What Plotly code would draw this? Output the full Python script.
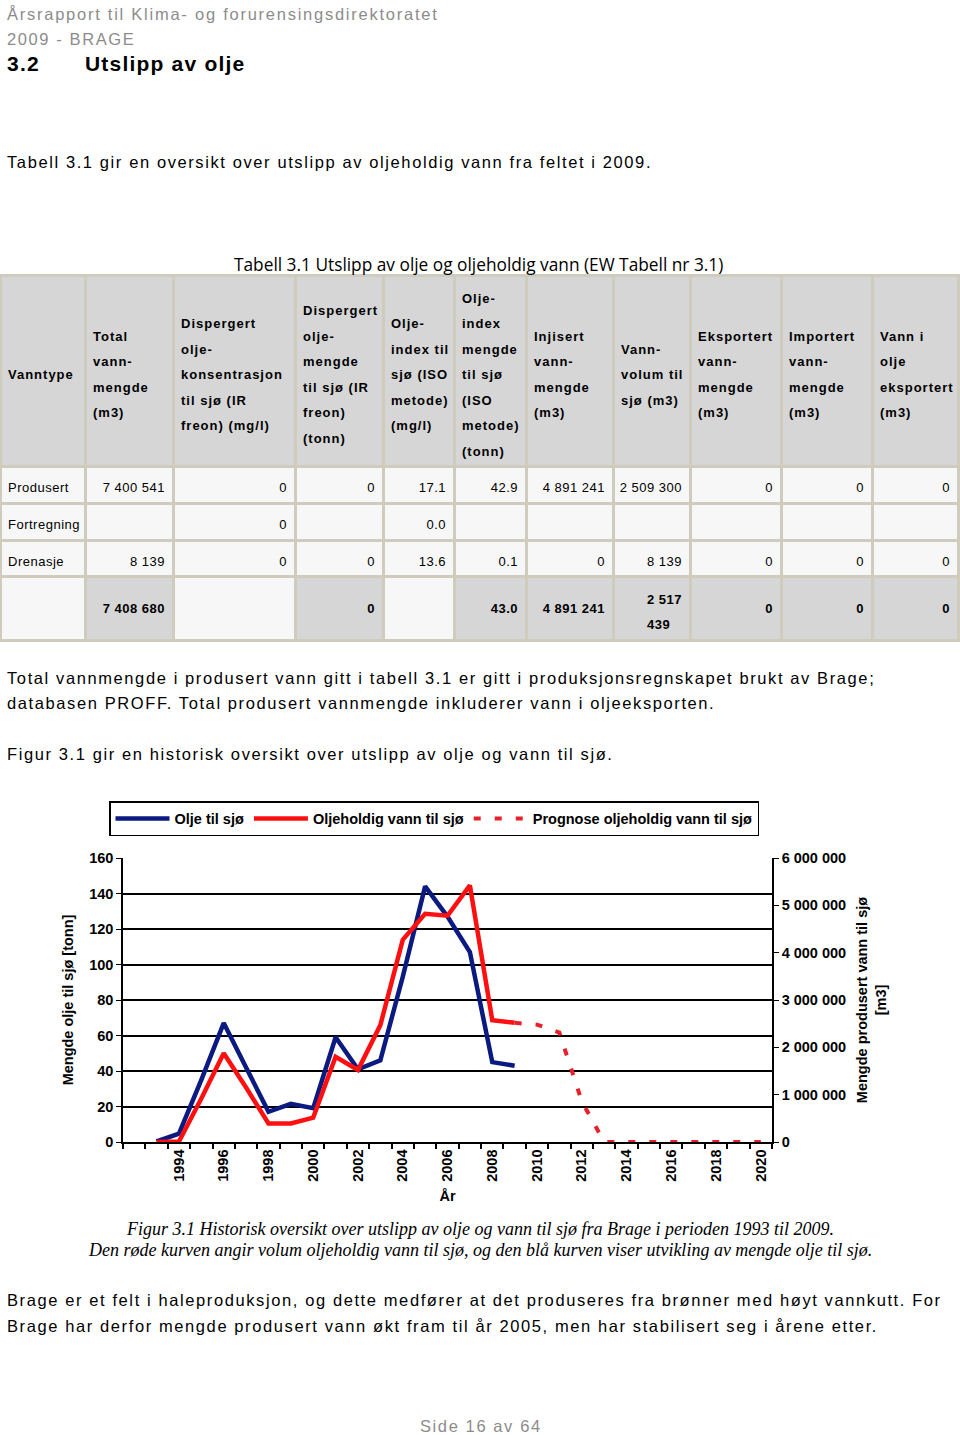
import plotly.graph_objects as go

W, H = 960, 1435
BODY = "Liberation Sans, Arial, sans-serif"
SERIF = "Liberation Serif, Times New Roman, serif"

# ---- Figur 3.1: utslipp av olje og vann til sjø ----
years = list(range(1993, 2010))
olje_til_sjo = [0.3, 4.7, 35, 67, 42, 17, 21.5, 19, 59, 41, 46, 93, 144, 127, 107, 45, 43]  # tonn
vann_til_sjo = [0, 10000, 920000, 1875000, 1150000, 390000, 390000, 515000, 1800000, 1520000,
                2470000, 4270000, 4820000, 4780000, 5420000, 2575000, 2517439]  # m3
prognose_years = list(range(2009, 2021))
prognose_vann = [2517439, 2480000, 2310000, 860000, 0, 0, 0, 0, 0, 0, 0, 0]
year_ticks = list(range(1994, 2021, 2))
year_bounds = [y + 0.5 for y in range(1991, 2021)]

# ---- Tabell 3.1 ----
table_header = [
    ["Vanntype"],
    ["Total", "vann-", "mengde", "(m3)"],
    ["Dispergert", "olje-", "konsentrasjon", "til sjø (IR", "freon) (mg/l)"],
    ["Dispergert", "olje-", "mengde", "til sjø (IR", "freon)", "(tonn)"],
    ["Olje-", "index til", "sjø (ISO", "metode)", "(mg/l)"],
    ["Olje-", "index", "mengde", "til sjø", "(ISO", "metode)", "(tonn)"],
    ["Injisert", "vann-", "mengde", "(m3)"],
    ["Vann-", "volum til", "sjø (m3)"],
    ["Eksportert", "vann-", "mengde", "(m3)"],
    ["Importert", "vann-", "mengde", "(m3)"],
    ["Vann i", "olje", "eksportert", "(m3)"],
]
vanntype = ["Produsert", "Fortregning", "Drenasje"]
total_vannmengde = ["7 400 541", "", "8 139"]
disp_konsentrasjon = ["0", "0", "0"]
disp_mengde = ["0", "", "0"]
oljeindex_konsentrasjon = ["17.1", "0.0", "13.6"]
oljeindex_mengde = ["42.9", "", "0.1"]
injisert = ["4 891 241", "", "0"]
vannvolum = ["2 509 300", "", "8 139"]
eksportert = ["0", "", "0"]
importert = ["0", "", "0"]
vann_i_olje = ["0", "", "0"]
# sum row (None = no sum cell); the narrow column breaks "2 517 439" over two lines
sum_row = [None, "7 408 680", None, "0", None, "43.0", "4 891 241", "2 517\n439", "0", "0", "0"]

columns = [vanntype, total_vannmengde, disp_konsentrasjon, disp_mengde, oljeindex_konsentrasjon,
           oljeindex_mengde, injisert, vannvolum, eksportert, importert, vann_i_olje]
col_widths = [85, 88, 122, 88, 71, 72, 87, 77, 91, 91, 86]


# base font 9.8px -> <br> steps of 12.75px; glyphs drawn at 13px inside spans.
# a leading no-break space of a chosen size pushes the text down inside the cell
def cell_text(lines, lead, lead_size, bold=False, spacing="0.5px"):
    if not lines or lines == [""]:
        return ""
    parts = []
    for ln in lines:
        t = "<b>%s</b>" % ln if bold else ln
        parts.append("<span style='font-size:13px;letter-spacing:%s'>%s</span>" % (spacing, t))
    pad = "<span style='font-size:%.2fpx'>&nbsp;</span>" % lead_size
    return pad + "<br>" * lead + "<br><br>".join(parts)


header_vals = [cell_text(h, 8 - len(h), 8.26, bold=True, spacing="1px") for h in table_header]
cell_vals, cell_fill = [], []
for col, s in zip(columns, sum_row):
    vals = [cell_text([v], 1, 5.55) for v in col]
    if s is None:
        vals.append("")
        fills = ["#f7f7f7"] * 4
    else:
        parts = s.split("\n")
        if len(parts) == 1:
            vals.append(cell_text(parts, 1, 17.1, bold=True))
        else:
            vals.append(cell_text(parts, 1, 6.65, bold=True))
        fills = ["#f7f7f7"] * 3 + ["#d6d6d6"]
    cell_vals.append(vals)
    cell_fill.append(fills)

fig = go.Figure()

fig.add_trace(go.Table(
    domain=dict(x=[0, 958 / W], y=[1 - 660 / H, 1 - 275 / H]),
    columnwidth=col_widths,
    header=dict(values=header_vals, align="left", height=190,
                fill_color="#d6d6d6", line=dict(color="#cfcbbd", width=3),
                font=dict(family=BODY, size=9.8, color="black")),
    cells=dict(values=cell_vals, align=["left"] + ["right"] * 10, height=36,
               fill=dict(color=cell_fill), line=dict(color="#cfcbbd", width=3),
               font=dict(family=BODY, size=9.8, color="black")),
))

fig.add_trace(go.Scatter(x=years, y=olje_til_sjo, name="Olje til sjø", mode="lines",
                         line=dict(color="#0b1a80", width=4.5)))
fig.add_trace(go.Scatter(x=years, y=vann_til_sjo, name="Oljeholdig vann til sjø", mode="lines",
                         yaxis="y2", line=dict(color="#ff1010", width=4.5)))
fig.add_trace(go.Scatter(x=prognose_years, y=prognose_vann, name="Prognose oljeholdig vann til sjø",
                         mode="lines", yaxis="y2",
                         line=dict(color="#e8202a", width=4, dash="7px,14px")))

tick_font = dict(family=BODY, size=14.5, color="black", weight="bold")
fig.update_layout(
    width=W, height=H, margin=dict(l=0, r=0, t=0, b=0),
    paper_bgcolor="white", plot_bgcolor="white", separators=", ",
    showlegend=True,
    legend=dict(orientation="h", x=109 / W, y=1 - 801 / H, xanchor="left", yanchor="top",
                bordercolor="black", borderwidth=1.5, bgcolor="white", itemwidth=54,
                font=dict(family=BODY, size=14.5, color="black", weight="bold")),
    xaxis=dict(domain=[123 / W, 772 / W], range=[1991.5, 2020.5], tickmode="array",
               tickvals=year_ticks, ticks="", tickangle=-90, tickfont=tick_font,
               showgrid=False, zeroline=False, showline=True, linecolor="black", linewidth=1.5,
               minor=dict(tickmode="array", tickvals=year_bounds, ticks="outside", ticklen=5,
                          tickwidth=1.5, tickcolor="black", showgrid=False),
               title=dict(text="År", font=tick_font, standoff=10), automargin=False),
    yaxis=dict(domain=[1 - 1142 / H, 1 - 858 / H], range=[0, 160], dtick=20, tickfont=tick_font,
               showgrid=True, gridcolor="black", gridwidth=1.5, zeroline=False,
               showline=True, linecolor="black", linewidth=1.5,
               ticks="outside", ticklen=5, tickcolor="black",
               title=dict(text="Mengde olje til sjø [tonn]", font=tick_font, standoff=12),
               automargin=False),
    yaxis2=dict(overlaying="y", side="right", anchor="x", range=[0, 6000000], dtick=1000000,
                tickformat=",d", tickfont=tick_font, showgrid=False, zeroline=False,
                showline=True, linecolor="black", linewidth=1.5,
                ticks="outside", ticklen=5, tickcolor="black",
                title=dict(text="Mengde produsert vann til sjø<br>[m3]", font=tick_font, standoff=12),
                automargin=False),
)


def note(s, x, y, size=16.5, color="black", anchor="left", family=BODY, weight="normal",
         style="normal", spacing="1.6px"):
    if spacing:
        s = "<span style='letter-spacing:%s'>%s</span>" % (spacing, s)
    fig.add_annotation(text=s, x=x / W, y=1 - y / H, xref="paper", yref="paper",
                       xanchor=anchor, yanchor="middle", showarrow=False, borderpad=0,
                       font=dict(family=family, size=size, color=color, weight=weight, style=style))


GREY = "#8c8c8c"
note("Årsrapport til Klima- og forurensingsdirektoratet", 6, 14, color=GREY, spacing="1.75px")
note("2009 - BRAGE", 6, 39, color=GREY)
note("3.2", 6, 63, size=21, weight="bold", spacing="1.2px")
note("Utslipp av olje", 84, 63, size=21, weight="bold", spacing="1.2px")
note("Tabell 3.1 gir en oversikt over utslipp av oljeholdig vann fra feltet i 2009.", 6, 162)
note("Tabell 3.1 Utslipp av olje og oljeholdig vann (EW Tabell nr 3.1)", 478, 264, size=17.3,
     anchor="center", family="Open Sans, sans-serif", spacing=None)
note("Total vannmengde i produsert vann gitt i tabell 3.1 er gitt i produksjonsregnskapet brukt av Brage;",
     6, 678)
note("databasen PROFF. Total produsert vannmengde inkluderer vann i oljeeksporten.", 6, 703)
note("Figur 3.1 gir en historisk oversikt over utslipp av olje og vann til sjø.", 6, 754)
note("Figur 3.1 Historisk oversikt over utslipp av olje og vann til sjø fra Brage i perioden 1993 til 2009.",
     480, 1229, size=18, anchor="center", family=SERIF, style="italic", spacing=None)
note("Den røde kurven angir volum oljeholdig vann til sjø, og den blå kurven viser utvikling av mengde olje til sjø.",
     480, 1250, size=18, anchor="center", family=SERIF, style="italic", spacing=None)
note("Brage er et felt i haleproduksjon, og dette medfører at det produseres fra brønner med høyt vannkutt. For",
     6, 1300)
note("Brage har derfor mengde produsert vann økt fram til år 2005, men har stabilisert seg i årene etter.",
     6, 1326)
note("Side 16 av 64", 481, 1426, color=GREY, anchor="center")

fig.write_html("out.html", config={"displayModeBar": False},
               post_script="document.body.style.margin='0';")
